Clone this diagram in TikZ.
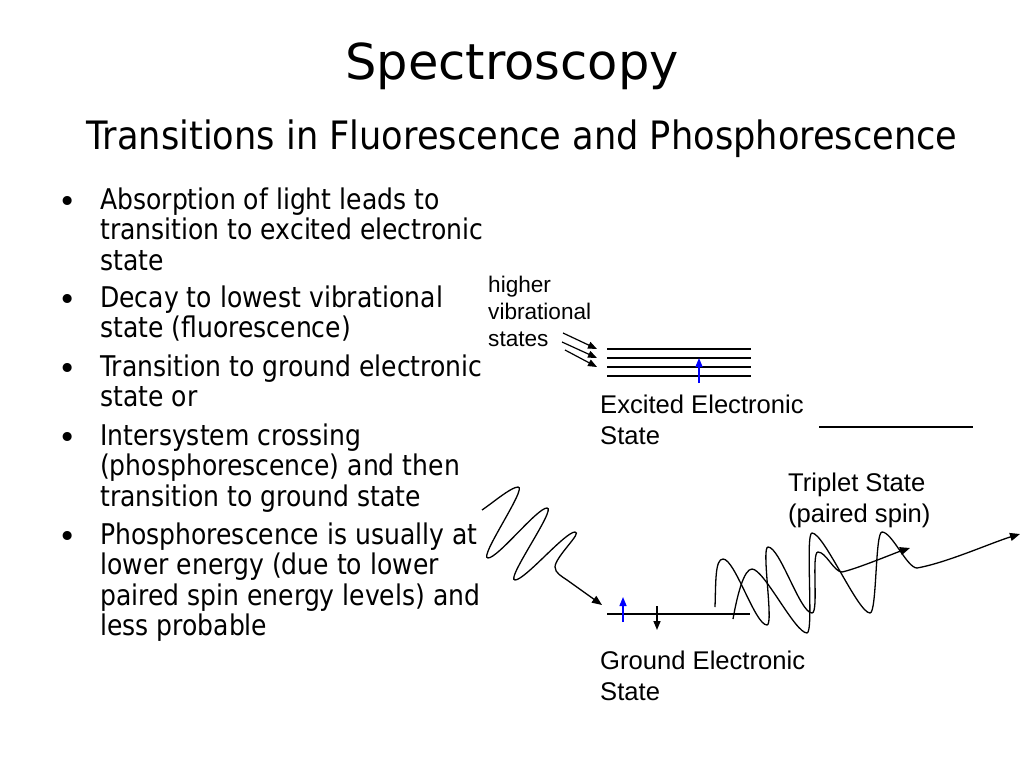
\documentclass[tikz,border=0pt]{standalone}
\usepackage{fontspec}
\usetikzlibrary{arrows.meta}
\newfontfamily\titlefont{DejaVu Sans}
\newfontfamily\subfont[FakeStretch=0.9]{DejaVu Sans}
\newfontfamily\bodyfont[FakeStretch=0.88]{DejaVu Sans}
\newfontfamily\labelfont{Liberation Sans}
\begin{document}
\begin{tikzpicture}[x=1pt,y=1pt,
  titlestyle/.style={font=\titlefont\fontsize{49.5}{52}\selectfont, anchor=base, inner sep=0pt},
  substyle/.style={font=\subfont\fontsize{39.1}{41}\selectfont, anchor=base, inner sep=0pt},
  btext/.style={font=\bodyfont\fontsize{28.5}{30.5}\selectfont, anchor=base west, align=left, inner sep=0pt},
  bdot/.style={font=\titlefont\fontsize{31}{31}\selectfont, anchor=base, inner sep=0pt},
  lbl/.style={font=\labelfont\fontsize{25.6}{31}\selectfont, anchor=base west, align=left, inner sep=0pt},
  smalllbl/.style={font=\labelfont\fontsize{22.6}{27}\selectfont, anchor=base west, align=left, inner sep=0pt},
  level/.style={line width=2pt},
  photon/.style={line width=1.3pt, -{Triangle[length=10pt,width=8pt]}},
  pointer/.style={line width=1.2pt, -{Triangle[length=9pt,width=7pt]}},
  spinup/.style={blue, line width=1.5pt, -{Triangle[length=9pt,width=7pt]}},
  spindown/.style={black, line width=1.5pt, -{Triangle[length=9pt,width=7pt]}},
  desc/.style={out=0,in=180,distance=12pt},
  rise/.style={out=0,in=180,distance=7pt},
  zig/.style={out=0,in=180,distance=10pt}
]
\useasboundingbox (0,0) rectangle (1024,-768);
\fill[white] (0,0) rectangle (1024,-768);

% titles
\node[titlestyle] (title) at (512,-79) {Spectroscopy};
\node[substyle] (subtitle) at (522,-149) {Transitions in Fluorescence and Phosphorescence};

% bullets (multi-line nodes are anchored at the baseline of their last line)
\node[bdot] (d1) at (68,-212) {•};
\node[btext] (b1) at (100,-270) {Absorption of light leads to\\transition to excited electronic\\state};
\node[bdot] (d2) at (68,-310) {•};
\node[btext] (b2) at (100,-337.5) {Decay to lowest vibrational\\state (fluorescence)};
\node[bdot] (d3) at (68,-379) {•};
\node[btext] (b3) at (100,-406.5) {Transition to ground electronic\\state or};
\node[bdot] (d4) at (68,-448) {•};
\node[btext] (b4) at (100,-506) {Intersystem crossing\\(phosphorescence) and then\\transition to ground state};
\node[bdot] (d5) at (68,-547) {•};
\node[btext] (b5) at (100,-635.5) {Phosphorescence is usually at\\lower energy (due to lower\\paired spin energy levels) and\\less probable};

% labels
\node[smalllbl] (hv) at (488,-346) {higher\\vibrational\\states};
\node[lbl] (exc) at (600,-444) {Excited Electronic\\State};
\node[lbl] (trip) at (788,-522) {Triplet State\\(paired spin)};
\node[lbl] (gnd) at (600,-700) {Ground Electronic\\State};

% excited state levels
\foreach \yy [count=\i] in {349,358,367,376} {
  \coordinate (eL\i) at (607,-\yy);
  \coordinate (eR\i) at (751,-\yy);
  \draw[level] (eL\i) -- (eR\i);
}
% triplet level
\coordinate (tL) at (819,-427);
\coordinate (tR) at (973,-427);
\draw[level] (tL) -- (tR);
% ground level
\coordinate (gL) at (607,-614);
\coordinate (gR) at (750,-614);
\draw[level] (gL) -- (gR);

% pointers from "states"
\coordinate (p1s) at (563,-333); \coordinate (p1e) at (597,-349);
\coordinate (p2s) at (562,-342); \coordinate (p2e) at (597,-358);
\coordinate (p3s) at (565,-350); \coordinate (p3e) at (597,-367);
\draw[pointer] (p1s) -- (p1e);
\draw[pointer] (p2s) -- (p2e);
\draw[pointer] (p3s) -- (p3e);

% spins
\coordinate (es0) at (699,-383); \coordinate (es1) at (699,-358);
\draw[spinup] (es0) -- (es1);
\coordinate (gu0) at (623,-622); \coordinate (gu1) at (623,-597);
\draw[spinup] (gu0) -- (gu1);
\coordinate (gd0) at (657,-606); \coordinate (gd1) at (657,-630);
\draw[spindown] (gd0) -- (gd1);

% absorption photon
\coordinate (a0) at (482,-510);
\coordinate (aT) at (602,-605);
\draw[photon] (a0) to[out=33,in=180,out distance=10pt,in distance=7pt] (518,-487)
  to[zig] (488,-558) to[zig] (547,-508) to[zig] (515,-580) to[zig] (575,-532)
  to[out=0,in=90,out distance=8pt,in distance=10pt] (555,-567)
  to[out=-90,in=145,distance=6pt] (567,-580) -- (aT);

% fluorescence photon
\coordinate (f0) at (715,-607);
\coordinate (fT) at (910,-548);
\draw[photon] (f0) to[out=88,in=180,out distance=25pt,in distance=8pt] (723,-559)
  to[desc] (767,-625) to[rise] (768,-547) to[desc] (812,-613) to[rise] (818,-552)
  to[out=0,in=180,distance=8pt] (842,-572)
  to[out=12,in=198,distance=15pt] (fT);

% phosphorescence photon
\coordinate (h0) at (733,-619);
\coordinate (hT) at (1020,-534);
\draw[photon] (h0) to[out=80,in=180,out distance=25pt,in distance=8pt] (752,-569)
  to[desc] (807,-633) to[rise] (812,-533) to[desc] (870,-613) to[rise] (882,-532)
  to[out=0,in=180,distance=10pt] (917,-568)
  to[out=10,in=197,distance=30pt] (hT);
\end{tikzpicture}
\end{document}
